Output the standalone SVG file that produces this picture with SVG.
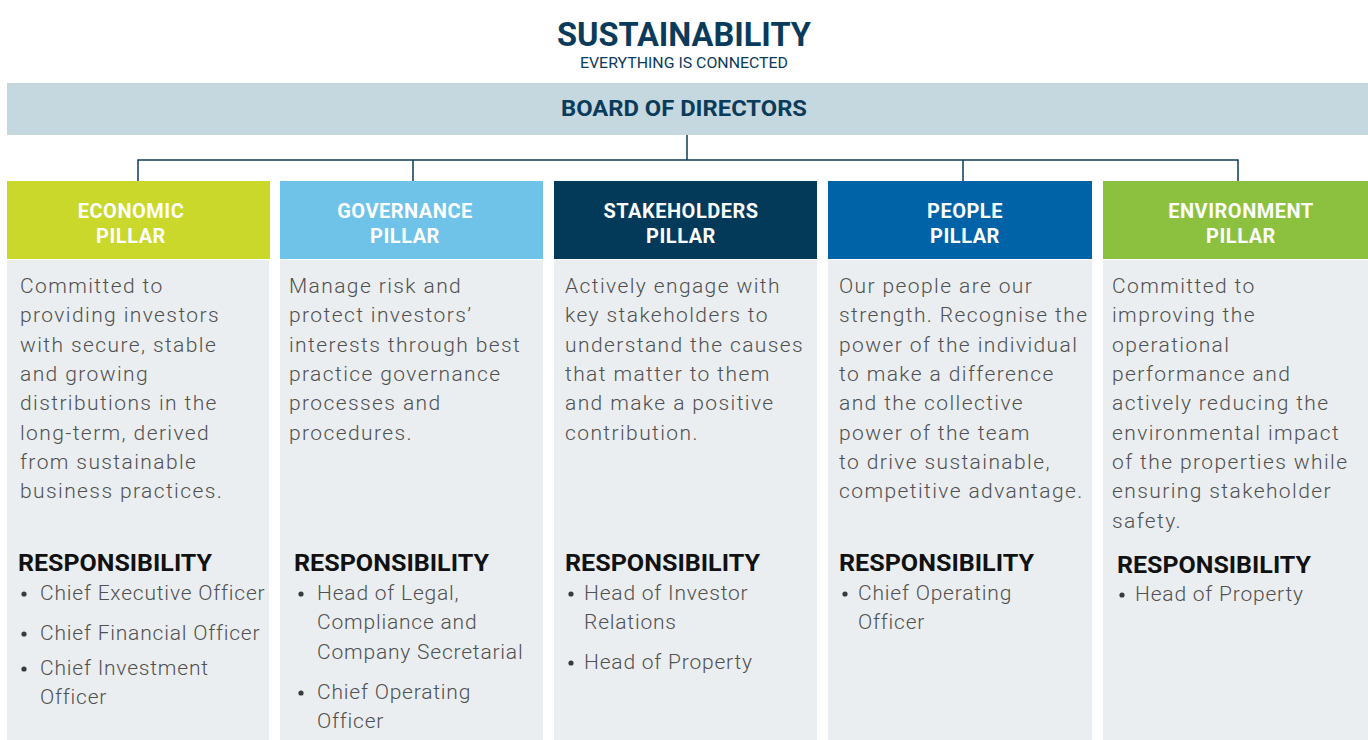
<svg xmlns="http://www.w3.org/2000/svg" width="1368" height="740" viewBox="0 0 1368 740">
  <style>
    .title { font-family: "Roboto", "Liberation Sans", sans-serif; font-weight: 700; fill: #0b3b5a; }
    .sub { font-family: "Roboto", "Liberation Sans", sans-serif; font-weight: 400; fill: #0b3b5a; }
    .hdr { font-family: "Roboto", "Liberation Sans", sans-serif; font-weight: 700; font-size: 20px; fill: #ffffff; text-anchor: middle; letter-spacing: 0.5px; }
    .body { font-family: "Roboto", "Lato", "Liberation Sans", sans-serif; font-weight: 300; font-size: 21px; fill: #505050; letter-spacing: 1.4px; }
    .item { font-family: "Roboto", "Lato", "Liberation Sans", sans-serif; font-weight: 300; font-size: 21px; fill: #505050; letter-spacing: 0.8px; }
    .dot { fill: #3a3a3a; }
    .resp { font-family: "Roboto", "Liberation Sans", sans-serif; font-weight: 700; font-size: 24px; fill: #111111; }
    .panel { fill: #eaeef1; }
    .conn { fill: none; stroke: #0b3b5a; stroke-width: 1.5; }
  </style>

  <rect width="1368" height="740" fill="#ffffff"/>

  <!-- Title -->
  <g id="title">
    <text class="title" x="684" y="46" font-size="33" text-anchor="middle" textLength="254" lengthAdjust="spacingAndGlyphs">SUSTAINABILITY</text>
    <text class="sub" x="684" y="68" font-size="15" text-anchor="middle" textLength="208" lengthAdjust="spacingAndGlyphs">EVERYTHING IS CONNECTED</text>
  </g>

  <!-- Board -->
  <g id="board">
    <rect x="7" y="83" width="1361" height="52" fill="#c5d8df"/>
    <text class="title" x="684" y="116" font-size="22" text-anchor="middle" textLength="246" lengthAdjust="spacingAndGlyphs">BOARD OF DIRECTORS</text>
  </g>

  <!-- Connectors -->
  <g id="connectors">
    <path class="conn" d="M687 135 V160 M138 181 V160 H1238 V181 M413 160 V181 M963 160 V181"/>
  </g>

  <!-- Economic -->
  <g id="economic">
    <rect x="7" y="181" width="263" height="78" fill="#c9d82a"/>
    <rect class="panel" x="7" y="260" width="262" height="480"/>
    <text class="hdr" x="131" y="218">ECONOMIC</text>
    <text class="hdr" x="131" y="243">PILLAR</text>
    <text class="body">
      <tspan x="20" y="293">Committed to</tspan>
      <tspan x="20" y="322">providing investors</tspan>
      <tspan x="20" y="352">with secure, stable</tspan>
      <tspan x="20" y="381">and growing</tspan>
      <tspan x="20" y="410">distributions in the</tspan>
      <tspan x="20" y="440">long-term, derived</tspan>
      <tspan x="20" y="469">from sustainable</tspan>
      <tspan x="20" y="498">business practices.</tspan>
    </text>
    <text class="resp" x="18" y="571" textLength="194" lengthAdjust="spacingAndGlyphs">RESPONSIBILITY</text>
    <circle class="dot" cx="24" cy="594" r="2.6"/>
    <circle class="dot" cx="24" cy="634" r="2.6"/>
    <circle class="dot" cx="24" cy="669" r="2.6"/>
    <text class="item">
      <tspan x="40" y="600">Chief Executive Officer</tspan>
      <tspan x="40" y="640">Chief Financial Officer</tspan>
      <tspan x="40" y="675">Chief Investment</tspan>
      <tspan x="40" y="704">Officer</tspan>
    </text>
  </g>

  <!-- Governance -->
  <g id="governance">
    <rect x="280" y="181" width="263" height="78" fill="#6fc3e8"/>
    <rect class="panel" x="280" y="260" width="263" height="480"/>
    <text class="hdr" x="405" y="218">GOVERNANCE</text>
    <text class="hdr" x="405" y="243">PILLAR</text>
    <text class="body">
      <tspan x="289" y="293">Manage risk and</tspan>
      <tspan x="289" y="322">protect investors’</tspan>
      <tspan x="289" y="352">interests through best</tspan>
      <tspan x="289" y="381">practice governance</tspan>
      <tspan x="289" y="410">processes and</tspan>
      <tspan x="289" y="440">procedures.</tspan>
    </text>
    <text class="resp" x="294" y="571" textLength="195" lengthAdjust="spacingAndGlyphs">RESPONSIBILITY</text>
    <circle class="dot" cx="301" cy="594" r="2.6"/>
    <circle class="dot" cx="301" cy="693" r="2.6"/>
    <text class="item">
      <tspan x="317" y="600">Head of Legal,</tspan>
      <tspan x="317" y="629">Compliance and</tspan>
      <tspan x="317" y="659">Company Secretarial</tspan>
      <tspan x="317" y="699">Chief Operating</tspan>
      <tspan x="317" y="728">Officer</tspan>
    </text>
  </g>

  <!-- Stakeholders -->
  <g id="stakeholders">
    <rect x="554" y="181" width="263" height="78" fill="#033a5a"/>
    <rect class="panel" x="554" y="260" width="263" height="480"/>
    <text class="hdr" x="681" y="218">STAKEHOLDERS</text>
    <text class="hdr" x="681" y="243">PILLAR</text>
    <text class="body">
      <tspan x="565" y="293">Actively engage with</tspan>
      <tspan x="565" y="322">key stakeholders to</tspan>
      <tspan x="565" y="352">understand the causes</tspan>
      <tspan x="565" y="381">that matter to them</tspan>
      <tspan x="565" y="410">and make a positive</tspan>
      <tspan x="565" y="440">contribution.</tspan>
    </text>
    <text class="resp" x="565" y="571" textLength="195" lengthAdjust="spacingAndGlyphs">RESPONSIBILITY</text>
    <circle class="dot" cx="571" cy="594" r="2.6"/>
    <circle class="dot" cx="571" cy="663" r="2.6"/>
    <text class="item">
      <tspan x="584" y="600">Head of Investor</tspan>
      <tspan x="584" y="629">Relations</tspan>
      <tspan x="584" y="669">Head of Property</tspan>
    </text>
  </g>

  <!-- People -->
  <g id="people">
    <rect x="828" y="181" width="264" height="78" fill="#0063a8"/>
    <rect class="panel" x="828" y="260" width="264" height="480"/>
    <text class="hdr" x="965" y="218">PEOPLE</text>
    <text class="hdr" x="965" y="243">PILLAR</text>
    <text class="body">
      <tspan x="839" y="293">Our people are our</tspan>
      <tspan x="839" y="322">strength. Recognise the</tspan>
      <tspan x="839" y="352">power of the individual</tspan>
      <tspan x="839" y="381">to make a difference</tspan>
      <tspan x="839" y="410">and the collective</tspan>
      <tspan x="839" y="440">power of the team</tspan>
      <tspan x="839" y="469">to drive sustainable,</tspan>
      <tspan x="839" y="498">competitive advantage.</tspan>
    </text>
    <text class="resp" x="839" y="571" textLength="195" lengthAdjust="spacingAndGlyphs">RESPONSIBILITY</text>
    <circle class="dot" cx="845" cy="594" r="2.6"/>
    <text class="item">
      <tspan x="858" y="600">Chief Operating</tspan>
      <tspan x="858" y="629">Officer</tspan>
    </text>
  </g>

  <!-- Environment -->
  <g id="environment">
    <rect x="1103" y="181" width="265" height="78" fill="#8cc13f"/>
    <rect class="panel" x="1103" y="260" width="265" height="480"/>
    <text class="hdr" x="1241" y="218">ENVIRONMENT</text>
    <text class="hdr" x="1241" y="243">PILLAR</text>
    <text class="body">
      <tspan x="1112" y="293">Committed to</tspan>
      <tspan x="1112" y="322">improving the</tspan>
      <tspan x="1112" y="352">operational</tspan>
      <tspan x="1112" y="381">performance and</tspan>
      <tspan x="1112" y="410">actively reducing the</tspan>
      <tspan x="1112" y="440">environmental impact</tspan>
      <tspan x="1112" y="469">of the properties while</tspan>
      <tspan x="1112" y="498">ensuring stakeholder</tspan>
      <tspan x="1112" y="528">safety.</tspan>
    </text>
    <text class="resp" x="1117" y="573" textLength="194" lengthAdjust="spacingAndGlyphs">RESPONSIBILITY</text>
    <circle class="dot" cx="1122" cy="595" r="2.6"/>
    <text class="item">
      <tspan x="1135" y="601">Head of Property</tspan>
    </text>
  </g>
</svg>
